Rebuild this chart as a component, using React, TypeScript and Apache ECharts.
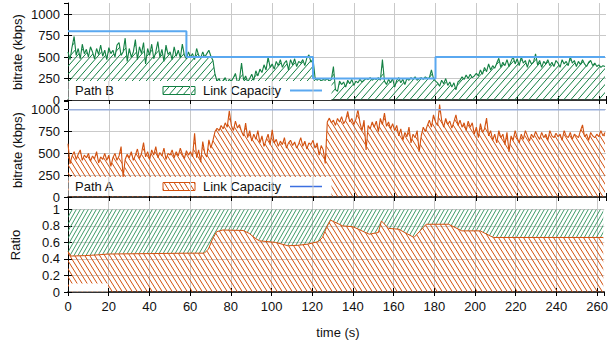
import React, { useEffect, useRef } from "react";
import * as echarts from "echarts";

// One sample per second, starting at t = 0 s
const SAMPLE_PERIOD_S = 1;

// Path B received bitrate (kbps)
const pathBBitrate = [
  560, 470, 620, 740, 520, 600, 480, 650, 540, 590,
  500, 620, 560, 480, 600, 530, 640, 510, 580, 470,
  610, 540, 580, 500, 640, 670, 520, 560, 720, 450,
  600, 500, 560, 705, 470, 620, 540, 670, 420, 600,
  520, 650, 480, 560, 680, 500, 590, 450, 640, 530,
  560, 470, 620, 510, 580, 490, 650, 520, 480, 560,
  500, 540, 470, 600, 520, 490, 560, 500, 540, 580,
  510, 460, 300, 220, 250, 190, 230, 260, 200, 240,
  220, 260, 310, 200, 240, 430, 230, 280, 210, 250,
  300, 230, 340, 280, 360, 320, 410, 350, 500, 380,
  420, 360, 450, 400, 470, 380, 430, 460, 350, 470,
  410, 480, 390, 450, 430, 470, 400, 490, 525, 440,
  480, 260, 230, 250, 220, 240, 230, 250, 220, 240,
  390, 120, 100, 220, 180, 210, 150, 230, 190, 240,
  170, 220, 200, 240, 210, 230, 250, 240, 260, 230,
  250, 240, 260, 230, 470, 220, 180, 240, 200, 250,
  150, 230, 260, 200, 240, 180, 250, 230, 260, 240,
  270, 230, 250, 260, 240, 270, 250, 260, 350, 250,
  220, 200, 160, 230, 190, 250, 170, 210, 150, 200,
  117, 210, 230, 270, 240, 290, 250, 300, 260, 280,
  310, 280, 350, 300, 380, 330, 420, 350, 400, 370,
  430, 486, 380, 440, 400, 470, 390, 450, 505, 420,
  480, 400, 505, 430, 460, 380, 470, 420, 440, 537,
  410, 460, 380, 450, 420, 470, 400, 440, 390, 460,
  430, 380, 470, 420, 450, 400, 505, 430, 460, 390,
  450, 410, 470, 420, 390, 440, 460, 400, 430, 390,
  410, 380, 400, 390,
];

// Path A received bitrate (kbps)
const pathABitrate = [
  610, 380, 470, 520, 430, 490, 540, 420, 480, 450,
  500, 410, 470, 440, 520, 390, 460, 430, 500, 420,
  480, 350, 450, 500, 420, 470, 577, 230, 430, 490,
  450, 520, 420, 480, 550, 440, 500, 623, 460, 520,
  430, 540, 480, 577, 450, 510, 470, 560, 430, 500,
  480, 540, 450, 520, 470, 560, 490, 440, 530, 480,
  520, 460, 731, 450, 540, 400, 635, 500, 460, 654,
  560, 650, 750, 788, 760, 820, 780, 850, 800, 988,
  820, 760, 870, 790, 830, 750, 700, 846, 680, 760,
  640, 720, 660, 760, 620, 700, 580, 650, 720, 600,
  770, 620, 660, 580, 640, 600, 680, 560, 620, 650,
  590, 630, 560, 610, 680, 580, 640, 550, 620, 600,
  650, 560, 620, 480, 590, 540, 385, 860, 904, 850,
  880, 820, 900, 860, 920, 840, 880, 980, 860, 900,
  830, 890, 1000, 850, 760, 880, 538, 820, 780, 860,
  800, 870, 750, 900, 830, 961, 810, 860, 780, 840,
  760, 820, 700, 780, 650, 740, 690, 800, 620, 720,
  680, 760, 519, 700, 800, 750, 820, 880, 800, 942,
  860, 820, 1058, 880, 800, 900, 830, 870, 790, 860,
  942, 820, 880, 800, 850, 760, 870, 800, 850, 720,
  800, 680, 840, 740, 780, 904, 700, 760, 650, 720,
  620, 760, 680, 720, 600, 740, 519, 700, 650, 760,
  680, 620, 720, 660, 760, 700, 640, 720, 680, 750,
  700, 660, 740, 680, 720, 650, 760, 700, 680, 730,
  690, 720, 650, 760, 700, 680, 740, 660, 720, 700,
  680, 760, 827, 690, 720, 650, 740, 700, 680, 720,
  690, 760, 700, 740,
];

// Link capacity schedules (value holds until the next change)
const capBTimes = [0, 58, 120, 180, 263];
const capBValues = [800, 500, 250, 500, 500];
const capATimes = [0, 263];
const capAValues = [1000, 1000];

// Share of traffic carried by path A (path B carries the rest up to 1)
const ratioTimes = [
  0, 1.5, 8, 15, 20, 40, 60, 67, 69, 71, 73, 76, 86, 89, 92, 94, 102, 108,
  113, 118, 123, 125, 127, 129, 135, 140, 148, 152.5, 154, 157.5, 162.5, 170,
  173, 176, 187, 193.5, 202.5, 209, 263,
];
const ratioPathA = [
  0.49, 0.435, 0.44, 0.45, 0.46, 0.465, 0.47, 0.47, 0.52, 0.64, 0.73, 0.75,
  0.745, 0.71, 0.65, 0.62, 0.6, 0.56, 0.565, 0.58, 0.61, 0.66, 0.78, 0.87,
  0.8, 0.79, 0.7, 0.72, 0.86, 0.77, 0.76, 0.66, 0.74, 0.82, 0.82, 0.74, 0.74,
  0.66, 0.66,
];

const GREEN = "#138043";
const ORANGE = "#d2510f";
const CAP_BLUE = "#5aa8f0";
const FONT = "'Liberation Sans', Arial, Helvetica, sans-serif";

function hatch(w: number, h: number, color: string, dir: "/" | "\\", lw: number) {
  const c = document.createElement("canvas");
  c.width = w;
  c.height = h;
  const ctx = c.getContext("2d")!;
  ctx.strokeStyle = color;
  ctx.lineWidth = lw;
  ctx.beginPath();
  for (const off of [-w, 0, w]) {
    if (dir === "/") {
      ctx.moveTo(off, h);
      ctx.lineTo(off + w, 0);
    } else {
      ctx.moveTo(off, 0);
      ctx.lineTo(off + w, h);
    }
  }
  ctx.stroke();
  return { image: c, repeat: "repeat", imageWidth: w, imageHeight: h } as any;
}

const grids = [
  { left: 68, right: 5, top: 3, height: 97 },
  { left: 68, right: 5, top: 101, height: 96 },
  { left: 68, right: 5, top: 197, height: 95 },
];
const yMax = [1130, 1100, 1.15];
const yStep = [250, 250, 0.2];

export default function App() {
  const ref = useRef<HTMLDivElement>(null);

  useEffect(() => {
    if (!ref.current) return;
    const chart = echarts.init(ref.current, null, { renderer: "svg" });

    const greenWide = hatch(7, 8, GREEN, "/", 1);
    const greenDense = hatch(4, 7, "#2a9058", "/", 0.9);
    const orangeHatch = hatch(5, 8, ORANGE, "\\", 1);

    const toPairs = (vals: number[]) => vals.map((v, i) => [i * SAMPLE_PERIOD_S, v]);
    const zip = (ts: number[], vs: number[]) => ts.map((t, i) => [t, vs[i]]);

    const tickLabel = {
      color: "#111", fontSize: 13, fontFamily: FONT, lineHeight: 11,
      formatter: (v: number) => String(v),
    };
    const gridLine = { show: true, showMaxLine: false, lineStyle: { color: "#c9c9c9", width: 1 } };

    const xAxes: any[] = [];
    const yAxes: any[] = [];
    grids.forEach((_, i) => {
      xAxes.push({
        type: "value", gridIndex: i, min: 0, max: 263.5, interval: 20,
        axisLine: { show: true, onZero: false, lineStyle: { color: "#000", width: 1.5 } },
        axisTick: { inside: true, length: 4, lineStyle: { color: "#000" } },
        axisLabel: { show: i === 2, margin: 9, showMaxLabel: false, ...tickLabel },
        splitLine: gridLine,
      });
      yAxes.push({
        type: "value", gridIndex: i, min: 0, max: yMax[i], interval: yStep[i],
        axisLine: { show: true, onZero: false, lineStyle: { color: "#000", width: 1 } },
        axisTick: { inside: true, length: 4, lineStyle: { color: "#000" } },
        axisLabel: { margin: 8, showMaxLabel: false, ...tickLabel },
        splitLine: gridLine,
      });
    });
    grids.forEach((_, i) => {
      xAxes.push({
        type: "value", gridIndex: i, position: "top", min: 0, max: 263.5, interval: 20,
        axisLine: { show: false },
        axisTick: { inside: true, length: 4, lineStyle: { color: "#000" } },
        axisLabel: { show: false }, splitLine: { show: false },
      });
      yAxes.push({
        type: "value", gridIndex: i, position: "right", min: 0, max: yMax[i], interval: yStep[i],
        axisLine: { show: false },
        axisTick: { inside: true, length: 4, lineStyle: { color: "#000" } },
        axisLabel: { show: false }, splitLine: { show: false },
      });
    });

    const legendBox = (top: number, name: string, pattern: any, stroke: string, capColor: string, capWidth: number) => [
      { type: "rect", z: 50, shape: { x: 68.5, y: top, width: 263, height: 19 }, style: { fill: "#fff" } },
      { type: "text", z: 51, x: 75, y: top + 9.5, style: { text: name, fontSize: 13, fontFamily: FONT, fill: "#111", align: "left", verticalAlign: "middle" } },
      { type: "rect", z: 51, shape: { x: 163, y: top + 5.5, width: 32, height: 8 }, style: { fill: pattern, stroke, lineWidth: 1 } },
      { type: "text", z: 51, x: 203, y: top + 9.5, style: { text: "Link Capacity", fontSize: 13, fontFamily: FONT, fill: "#111", align: "left", verticalAlign: "middle" } },
      { type: "line", z: 51, shape: { x1: 290, y1: top + 9.5, x2: 322, y2: top + 9.5 }, style: { stroke: capColor, lineWidth: capWidth } },
    ];

    chart.setOption({
      animation: false,
      grid: grids,
      xAxis: xAxes,
      yAxis: yAxes,
      series: [
        {
          type: "line", xAxisIndex: 0, yAxisIndex: 0, data: toPairs(pathBBitrate),
          showSymbol: false, z: 3,
          lineStyle: { color: GREEN, width: 1.1 },
          areaStyle: { color: greenWide, opacity: 1 },
        },
        {
          type: "line", xAxisIndex: 0, yAxisIndex: 0, data: zip(capBTimes, capBValues),
          step: "end", showSymbol: false, z: 4,
          lineStyle: { color: CAP_BLUE, width: 2 },
        },
        {
          type: "line", xAxisIndex: 1, yAxisIndex: 1, data: toPairs(pathABitrate),
          showSymbol: false, z: 3,
          lineStyle: { color: ORANGE, width: 1.1 },
          areaStyle: { color: orangeHatch, opacity: 1 },
        },
        {
          type: "line", xAxisIndex: 1, yAxisIndex: 1, data: zip(capATimes, capAValues),
          showSymbol: false, z: 4,
          lineStyle: { color: "#9aafdc", width: 1.5 },
        },
        {
          // path B share: band between the ratio curve and 1
          type: "line", xAxisIndex: 2, yAxisIndex: 2, data: zip(ratioTimes, ratioPathA),
          showSymbol: false, z: 2,
          lineStyle: { width: 0 },
          areaStyle: { color: greenDense, opacity: 1, origin: 1 },
        },
        {
          // path A share: from 0 up to the ratio curve
          type: "line", xAxisIndex: 2, yAxisIndex: 2, data: zip(ratioTimes, ratioPathA),
          showSymbol: false, z: 3,
          lineStyle: { color: ORANGE, width: 1 },
          areaStyle: { color: orangeHatch, opacity: 1, origin: 0 },
        },
      ],
      graphic: [
        ...legendBox(81, "Path B", greenWide, GREEN, CAP_BLUE, 2),
        ...legendBox(177, "Path A", orangeHatch, ORANGE, "#3b6fe0", 1.5),
        { type: "rect", z: 50, shape: { x: 69, y: 283.5, width: 39, height: 8 }, style: { fill: "#fff" } },
        { type: "text", x: 17, y: 52, rotation: Math.PI / 2, style: { text: "bitrate (kbps)", fontSize: 13, fontFamily: FONT, fill: "#111", align: "center", verticalAlign: "middle" } },
        { type: "text", x: 17, y: 150, rotation: Math.PI / 2, style: { text: "bitrate (kbps)", fontSize: 13, fontFamily: FONT, fill: "#111", align: "center", verticalAlign: "middle" } },
        { type: "text", x: 15, y: 245, rotation: Math.PI / 2, style: { text: "Ratio", fontSize: 13, fontFamily: FONT, fill: "#111", align: "center", verticalAlign: "middle" } },
        { type: "text", x: 338, y: 332, style: { text: "time (s)", fontSize: 13, fontFamily: FONT, fill: "#111", align: "center", verticalAlign: "middle" } },
      ],
    });

    // Vertical grid lines stay visible across the legend boxes
    const extra: any[] = [];
    [0, 1].forEach((gi) => {
      const top = gi === 0 ? 81 : 177;
      for (let t = 20; t <= 120; t += 20) {
        const px = chart.convertToPixel({ xAxisIndex: gi } as any, t) as number;
        extra.push({ type: "line", z: 52, shape: { x1: px, y1: top, x2: px, y2: top + 19 }, style: { stroke: "#c9c9c9", lineWidth: 1 } });
      }
    });
    const opt: any = chart.getOption();
    chart.setOption({ graphic: [...(opt.graphic?.[0]?.elements || []), ...extra] });

    return () => chart.dispose();
  }, []);

  return (
    <div
      ref={ref}
      style={{ position: "absolute", left: 0, top: 0, width: 611, height: 341 }}
    />
  );
}
